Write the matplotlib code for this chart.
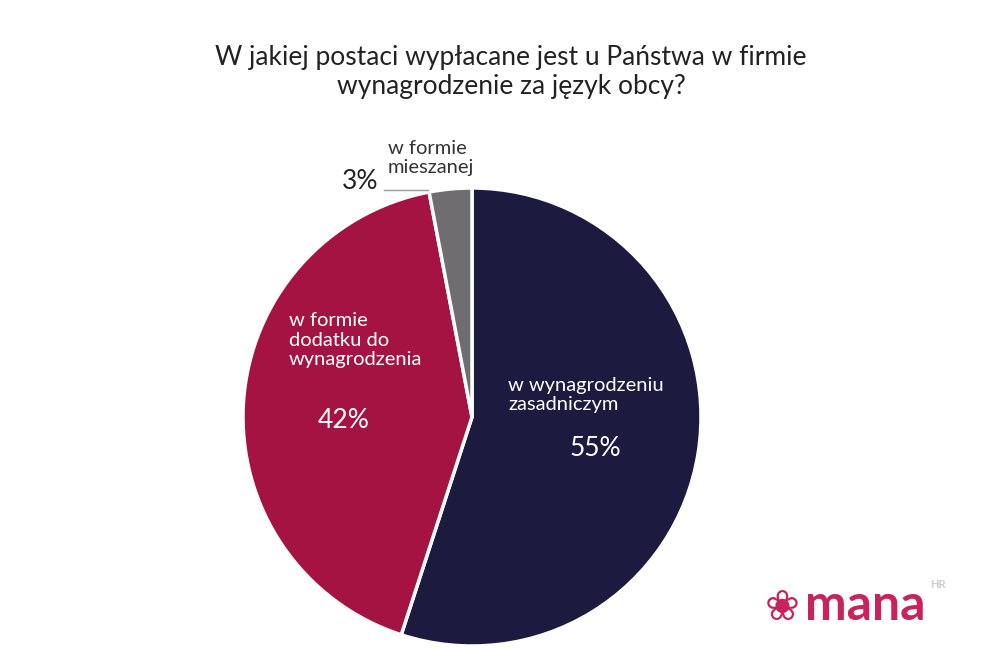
import matplotlib
matplotlib.use("Agg")
import matplotlib.pyplot as plt

categories = ["w wynagrodzeniu\nzasadniczym", "w formie\ndodatku do\nwynagrodzenia", "w formie\nmieszanej"]
values = [55, 42, 3]
colors = ["#1c1a3f", "#a51342", "#6f6d70"]

plt.rcParams['font.family'] = ['Lato', 'DejaVu Sans']
W, H = 988, 650
fig = plt.figure(figsize=(W/100, H/100), dpi=100)
cx, cy, r = 472, 417, 229
ax = fig.add_axes([(cx-r)/W, 1-(cy+r)/H, 2*r/W, 2*r/H])
ax.pie(values, colors=colors, startangle=90, counterclock=False, radius=1,
       wedgeprops=dict(edgecolor="white", linewidth=2.5))
ax.set_aspect('auto')
ax.set_xlim(-1, 1)
ax.set_ylim(-1, 1)

def t(x, y, s, **kw):
    fig.text(x/W, 1-y/H, s, **kw)

t(511, 72, "W jakiej postaci wypłacane jest u Państwa w firmie\nwynagrodzenie za język obcy?",
  fontsize=19, ha="center", va="center", color="#222222", linespacing=1.2)
t(508, 395, categories[0], fontsize=14.5, color="white", va="center", ha="left", linespacing=1.15)
t(595, 448, f"{values[0]}%", fontsize=19, color="white", va="center", ha="center")
t(289, 340, categories[1], fontsize=14.5, color="white", va="center", ha="left", linespacing=1.15)
t(344, 421, f"{values[1]}%", fontsize=19, color="white", va="center", ha="center")
t(388, 158, categories[2], fontsize=14.5, color="#333333", va="center", ha="left", linespacing=1.15)
t(360, 181, f"{values[2]}%", fontsize=19, color="#222222", va="center", ha="center")
fig.add_artist(plt.Line2D([384/W, 428/W], [1-190/H, 1-190/H], color="#999999", lw=1))

# logo
t(765, 608, "\u2740", fontsize=30, color="#c8235e", va="center", ha="left", family=['DejaVu Sans'])
t(805, 605, "mana", fontsize=36, color="#c8235e", va="center", ha="left", fontweight="bold")
t(930, 584, "HR", fontsize=8, color="#cccccc", va="center", ha="left", fontweight="bold")

fig.savefig("out.png", dpi=100, facecolor="white")
